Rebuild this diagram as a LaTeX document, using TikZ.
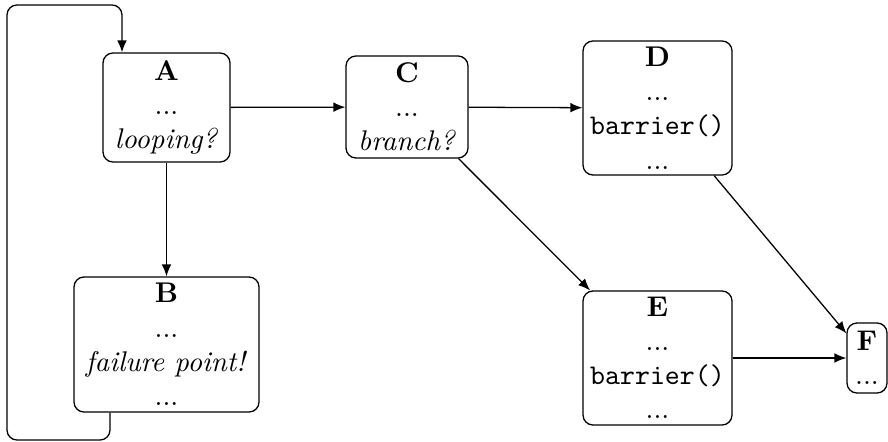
\documentclass[tikz,border=0pt]{standalone}
\usetikzlibrary{arrows.meta}
\begin{document}
\begin{tikzpicture}[x=0.351pt, y=-0.351pt,
  block/.style={draw, rounded corners=3.5pt, align=center, inner sep=0pt, line width=0.45pt},
  arr/.style={-{Latex[length=4.2pt,width=3.4pt]}, line width=0.45pt}]
  \path[use as bounding box] (0,0) rectangle (888,442);

  % blocks of the control-flow graph
  \node[block, minimum width={127*0.351pt}, minimum height={109*0.351pt}] (A) at (166.5,107.5)
    {\textbf{A}\\...\\\textit{looping?}};
  \node[block, minimum width={185*0.351pt}, minimum height={135*0.351pt}] (B) at (166.5,344.5)
    {\textbf{B}\\...\\\textit{failure point!}\\...};
  \node[block, minimum width={122*0.351pt}, minimum height={102*0.351pt}] (C) at (407,107)
    {\textbf{C}\\...\\\textit{branch?}};
  \node[block, minimum width={149*0.351pt}, minimum height={134*0.351pt}] (D) at (657.5,108)
    {\textbf{D}\\...\\\texttt{barrier()}\\...};
  \node[block, minimum width={149*0.351pt}, minimum height={134*0.351pt}] (E) at (657.5,358)
    {\textbf{E}\\...\\\texttt{barrier()}\\...};
  \node[block, minimum width={40*0.351pt}, minimum height={70*0.351pt}] (F) at (867,358)
    {\textbf{F}\\...};

  % edges
  \draw[arr] (A) -- (C);
  \draw[arr] (A) -- (B);
  \draw[arr] (C) -- (D);
  \draw[arr] (C) -- (E);
  \draw[arr] (D) -- (F);
  \draw[arr] (E) -- (F);

  % back edge from B to A
  \coordinate (loopB) at (110,0);
  \coordinate (loopA) at (122,0);
  \coordinate (loopBL) at (7,440);
  \coordinate (loopTL) at (122,5);
  \draw[arr, rounded corners=3.5pt] (B.south -| loopB) |- (loopBL) |- (loopTL) -- (A.north -| loopA);
\end{tikzpicture}
\end{document}
